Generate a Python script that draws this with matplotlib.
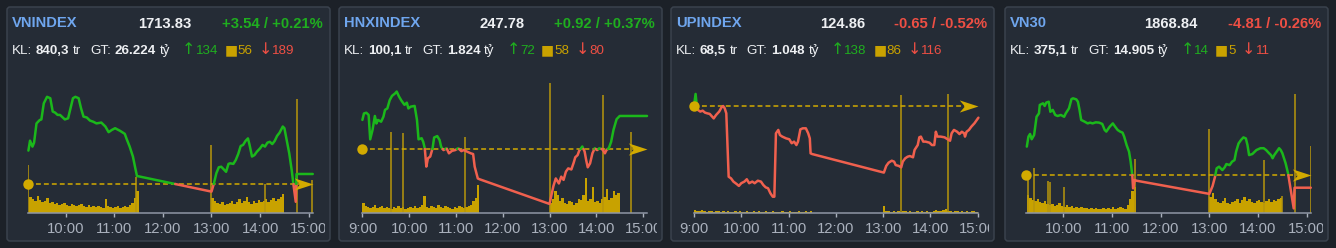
import matplotlib
matplotlib.use('Agg')
import matplotlib.pyplot as plt
from matplotlib.patches import FancyBboxPatch
from matplotlib.path import Path
from matplotlib.transforms import Bbox, IdentityTransform

# ---- header data ----
names = ['VNINDEX', 'HNXINDEX', 'UPINDEX', 'VN30']
last = [1713.83, 247.78, 124.86, 1868.84]
chg = [3.54, 0.92, -0.65, -4.81]
pct = [0.21, 0.37, -0.52, -0.26]
kl = ['840,3', '100,1', '68,5', '375,1']
gt = ['26.224', '1.824', '1.048', '14.905']
n_up = [134, 72, 138, 14]
n_flat = [56, 58, 86, 5]
n_down = [189, 80, 116, 11]

# time axis: minutes after 9:00
tick_pos = [0, 60, 120, 180, 240, 300, 360]
tick_lbl = ['9:00', '10:00', '11:00', '12:00', '13:00', '14:00', '15:00']

# ---- price series ----
vni_t = [14, 16, 19, 21, 24, 28, 30, 33, 37, 41, 44, 47, 50, 53, 56, 59, 63, 65, 69, 72,
         76, 79, 82, 86, 90, 94, 98, 104, 109, 113, 117, 121, 127, 133, 135, 139, 143, 146, 148, 150,
         240, 243, 246, 249, 252, 255, 258, 261, 263, 267, 270, 273, 276, 279, 282, 285, 287, 290,
         293, 296, 300, 303, 306, 309, 312, 315, 318, 321, 324, 328, 330, 336, 339, 341, 344, 345, 365]
vni_p = [1722.1, 1725.6, 1723.5, 1724.9, 1731.7, 1732.9, 1733.1, 1738.8, 1741.1, 1740.6,
         1735.9, 1735.5, 1734.7, 1734.7, 1733.9, 1733.1, 1733.5, 1735.9, 1740.6, 1741.1,
         1740.6, 1737.0, 1734.1, 1733.8, 1732.7, 1732.3, 1731.7, 1732.0, 1730.6, 1728.6,
         1729.4, 1730.0, 1729.1, 1728.0, 1726.4, 1723.5, 1720.0, 1715.8, 1713.1, 1713.0,
         1707.6, 1710.5, 1714.1, 1716.2, 1716.4, 1715.5, 1714.6, 1717.4, 1717.6, 1717.4,
         1718.8, 1720.9, 1723.7, 1724.1, 1725.5, 1726.4, 1724.1, 1720.0, 1720.5, 1721.7,
         1722.9, 1724.1, 1723.5, 1724.9, 1725.2, 1724.4, 1725.5, 1727.3, 1728.4, 1730.6,
         1730.0, 1721.1, 1715.2, 1710.5, 1704.0, 1713.83, 1713.83]

hnx_t = [0, 2, 5, 8, 10, 13, 16, 18, 20, 24, 27, 29, 32, 35, 38, 42, 44, 47, 50, 54,
         57, 59, 62, 67, 70, 72, 76, 78, 80, 82, 84, 87, 90, 92, 96, 99, 101, 104, 108, 111,
         115, 119, 123, 127, 130, 134, 139, 142, 144, 148, 150,
         240, 243, 245, 248, 252, 255, 258, 261, 264, 268, 271, 273, 276, 278, 282, 285, 287,
         289, 292, 295, 298, 301, 304, 308, 311, 313, 316, 319, 322, 326, 330, 365]
hnx_p = [247.67, 247.85, 247.87, 247.81, 247.13, 247.39, 247.78, 247.57, 247.67, 247.62,
         247.76, 247.95, 247.99, 248.22, 248.34, 248.41, 248.46, 248.32, 248.21, 248.09,
         248.15, 247.99, 248.04, 248.06, 247.67, 247.13, 247.16, 247.06, 246.88, 246.37,
         246.60, 246.65, 246.88, 247.18, 247.22, 247.11, 246.92, 246.83, 246.88, 246.74,
         246.81, 246.83, 246.88, 246.80, 246.83, 246.79, 246.74, 246.72, 246.37, 246.04, 246.02,
         245.33, 245.63, 245.83, 246.04, 245.90, 246.09, 246.00, 246.23, 246.32, 246.29,
         246.48, 246.63, 246.69, 246.81, 246.93, 246.79, 246.55, 246.35, 246.46, 246.74,
         246.88, 246.83, 246.88, 246.85, 246.74, 246.83, 246.88, 247.06, 247.39, 247.69,
         247.78, 247.78]

upc_t = [0, 2, 4, 8, 11, 14, 17, 20, 25, 28, 32, 35, 37, 39, 41, 44, 47, 50, 54, 57,
         60, 64, 67, 70, 74, 77, 81, 85, 88, 91, 94, 97, 100, 102, 104, 107, 109, 112, 117, 121,
         124, 127, 130, 132, 135, 138, 142, 145, 147, 148, 150,
         241, 244, 247, 251, 254, 256, 260, 263, 265, 268, 271, 274, 278, 280, 284, 286, 288,
         291, 294, 299, 302, 305, 307, 309, 313, 318, 322, 325, 327, 330, 334, 337, 340, 343,
         344, 346, 349, 352, 356, 361]
upc_p = [125.51, 126.18, 125.32, 125.20, 125.25, 125.14, 125.10, 125.07, 124.82, 125.01,
         125.20, 125.44, 125.51, 125.38, 125.10, 121.58, 121.49, 121.31, 121.18, 121.07,
         121.22, 121.31, 121.44, 121.22, 121.31, 121.22, 121.36, 121.31, 121.12, 120.99,
         120.94, 120.66, 120.47, 120.47, 123.99, 124.18, 123.90, 123.81, 123.71, 123.66,
         123.44, 123.53, 123.34, 123.53, 124.21, 124.27, 124.27, 123.99, 123.71, 122.88, 122.84,
         121.81, 122.18, 122.36, 122.47, 122.42, 122.23, 122.18, 122.10, 122.42, 122.60,
         122.69, 122.73, 122.66, 123.07, 123.34, 123.77, 123.81, 123.53, 123.53, 123.47,
         123.34, 123.34, 124.08, 123.81, 123.81, 123.77, 123.66, 123.58, 123.99, 124.18,
         124.08, 123.95, 124.08, 123.99, 123.81, 124.08, 124.18, 124.36, 124.55, 124.86]

vn30_t = [15, 17, 19, 21, 24, 27, 30, 31, 35, 37, 39, 42, 44, 47, 50, 53, 57, 61, 63, 67,
          70, 72, 76, 78, 80, 82, 86, 90, 93, 96, 100, 104, 108, 111, 113, 117, 121, 124, 127, 130,
          133, 135, 138, 141, 143, 145, 146, 148, 150,
          240, 244, 247, 249, 252, 256, 259, 261, 265, 268, 271, 273, 276, 279, 282, 285, 287,
          289, 293, 296, 298, 303, 307, 310, 313, 316, 318, 320, 323, 326, 328, 330, 334, 337,
          341, 344, 345, 365]
vn30_p = [1884.4, 1888.2, 1889.2, 1887.2, 1888.8, 1895.7, 1897.0, 1900.2, 1900.8, 1899.8,
          1901.1, 1901.4, 1897.6, 1898.3, 1896.4, 1896.0, 1896.4, 1895.7, 1897.0, 1898.9,
          1902.4, 1902.7, 1902.3, 1901.4, 1898.3, 1894.5, 1893.9, 1893.2, 1893.5, 1893.2,
          1893.6, 1893.5, 1893.0, 1890.7, 1890.1, 1891.9, 1893.2, 1891.9, 1890.7, 1890.1,
          1889.7, 1888.2, 1885.0, 1882.5, 1878.7, 1873.65, 1868.6, 1871.8, 1871.5,
          1866.5, 1869.5, 1873.0, 1876.2, 1876.8, 1875.5, 1876.6, 1877.8, 1877.4, 1878.7,
          1879.3, 1882.5, 1885.6, 1886.9, 1887.9, 1887.5, 1885.0, 1881.2, 1881.6, 1882.5,
          1883.1, 1883.8, 1883.8, 1883.1, 1882.1, 1881.2, 1880.0, 1881.2, 1882.5, 1883.8,
          1883.1, 1881.9, 1878.1, 1874.3, 1866.7, 1861.0, 1868.84, 1868.84]

# ---- volume: 3-minute bars per session + large single prints ----
vni_vol_am = [16, 14, 12, 17, 13, 11, 12, 15, 10, 11, 9, 10, 8, 9, 10, 8, 7, 9, 8, 7,
              8, 9, 7, 6, 8, 6, 7, 6, 7, 6, 5, 14, 7, 6, 5, 6, 7, 5, 6, 7, 6, 8, 10, 15, 22]
vni_vol_pm = [15, 12, 10, 9, 11, 8, 9, 10, 12, 9, 11, 14, 10, 12, 16, 11, 9, 12, 10, 13,
              11, 12, 14, 11, 13, 15, 12, 14, 16, 19]
vni_spk_t = [14, 147, 240, 306, 345, 364]
vni_spk_v = [48, 36, 68, 29, 114, 33]

hnx_vol_am = [10, 7, 6, 5, 6, 8, 5, 6, 7, 5, 6, 5, 4, 6, 5, 7, 5, 6, 4, 5,
              6, 5, 7, 5, 6, 8, 17, 6, 5, 7, 6, 5, 8, 6, 5, 7, 6, 5, 4, 6,
              5, 7, 6, 5, 6, 7, 8, 12, 15, 28]
hnx_vol_pm = [10, 14, 22, 18, 12, 15, 10, 9, 12, 11, 8, 10, 14, 13, 18, 35, 12, 14, 26, 11,
              12, 10, 14, 16, 24, 13, 15, 22, 18, 20]
hnx_spk_t = [37, 52, 131, 240, 309, 345]
hnx_spk_v = [81, 80, 76, 130, 118, 81]

upc_vol_am = [3, 2, 2, 3, 2, 1, 2, 2, 1, 2, 2, 1, 2, 1, 2, 1, 1, 2, 1, 2,
              1, 1, 2, 1, 1, 2, 1, 2, 1, 1, 2, 1, 1, 2, 1, 1, 1, 2, 1, 1,
              2, 1, 1, 1, 2, 1, 1, 2, 1, 2]
upc_vol_pm = [7, 2, 2, 1, 2, 1, 2, 1, 2, 2, 1, 2, 1, 1, 2, 1, 2, 1, 2, 1,
              1, 2, 3, 2, 2, 3, 4, 2, 2, 1, 2, 2, 1, 2, 1, 2, 1, 2, 2, 1]
upc_spk_t = [263, 323]
upc_spk_v = [118, 119]

vn30_vol_am = [18, 15, 13, 12, 14, 11, 10, 12, 9, 8, 9, 7, 8, 10, 7, 6, 8, 6, 7, 5,
               6, 5, 6, 5, 5, 4, 5, 4, 5, 4, 4, 5, 4, 5, 4, 6, 4, 5, 6, 5, 4, 8, 14, 22, 26]
vn30_vol_pm = [16, 20, 14, 11, 10, 12, 15, 10, 9, 11, 12, 14, 10, 13, 16, 12, 14, 11, 10, 12,
               13, 11, 10, 12, 14, 11, 13, 12, 14, 15]
vn30_spk_t = [16, 24, 41, 44, 61, 148, 240, 307, 329, 345, 365]
vn30_spk_v = [33, 45, 32, 31, 26, 54, 84, 53, 17, 119, 67]

series_t = [vni_t, hnx_t, upc_t, vn30_t]
series_p = [vni_p, hnx_p, upc_p, vn30_p]
vol_am = [vni_vol_am, hnx_vol_am, upc_vol_am, vn30_vol_am]
vol_pm = [vni_vol_pm, hnx_vol_pm, upc_vol_pm, vn30_vol_pm]
am_start = [15, 0, 0, 15]
spk_t = [vni_spk_t, hnx_spk_t, upc_spk_t, vn30_spk_t]
spk_v = [vni_spk_v, hnx_spk_v, upc_spk_v, vn30_spk_v]

# ---- layout / style ----
W, H = 1336, 248
BG = '#1c2128'
CARD = '#252c36'
EDGE = '#3a424d'
BLUE = '#6fa6ee'
WHITE = '#eef0f3'
UP = '#1bb81b'
DN = '#f0604e'
UPTXT = '#1fae1f'
DNTXT = '#ee4f44'
GOLD = '#d2aa00'
GOLDTXT = '#c9a200'
VOLC = '#c8a200'
SPKC = '#b8960c'
AXC = '#8f97a5'
TICKC = '#aab1bd'
FONT = ['Liberation Sans', 'DejaVu Sans']
SYM = ['DejaVu Sans']

card_x = [7, 339, 671, 1005]
card_w = 323
ax_px = [(28, 313), (362, 647), (694, 978), (1026, 1311)]
xlims = [(13.5, 365.3), (-0.5, 365), (0, 360.5), (14, 365.3)]
ylims = [(1700.15, 1747.04), (245.086, 248.782), (119.582, 126.954), (1859.37, 1909.64)]
vol_top = 133
price_x = [138.3, 479, 819.7, 1143.7]

fig = plt.figure(figsize=(W / 100, H / 100), dpi=100)
fig.patch.set_facecolor(BG)
rend = fig.canvas.get_renderer()


def fx(x):
    return x / W


def fy(y):
    return 1 - y / H


def color_runs(t, p, ref):
    runs = []
    pts = [(t[0], p[0])]
    cur = p[0] >= ref
    for i in range(1, len(t)):
        t0, p0, t1, p1 = t[i - 1], p[i - 1], t[i], p[i]
        if (p0 - ref) * (p1 - ref) < 0:
            tc = t0 + (ref - p0) / (p1 - p0) * (t1 - t0)
            pts.append((tc, ref))
            runs.append((cur, pts))
            pts = [(tc, ref)]
            cur = p1 > ref
        elif p0 == ref and p1 != ref and (p1 > ref) != cur:
            runs.append((cur, pts))
            pts = [(t0, p0)]
            cur = p1 > ref
        pts.append((t1, p1))
    runs.append((cur, pts))
    return runs


def put_runs(x, y, pieces):
    for s, kw in pieces:
        if s == ' ':
            x += kw
            continue
        t = fig.text(fx(x), fy(y), s, va='baseline', **kw)
        x += t.get_window_extent(renderer=rend).width
    return x


arrow_head = Path([(0, 0), (-2, 0.65), (-1.45, 0), (-2, -0.65), (0, 0)],
                  [Path.MOVETO, Path.LINETO, Path.LINETO, Path.LINETO, Path.CLOSEPOLY])

for i in range(4):
    cx = card_x[i]
    card = FancyBboxPatch((cx, H - 241), card_w, 234, boxstyle='round,pad=0,rounding_size=3',
                          transform=IdentityTransform(), facecolor=CARD, edgecolor=EDGE,
                          lw=1.1, zorder=-1)
    fig.add_artist(card)

    ref = round(last[i] - chg[i], 2)

    # header line 1
    fig.text(fx(cx + 4.8), fy(27.3), names[i], color=BLUE, fontsize=10.6,
             fontweight='bold', family=FONT, va='baseline')
    fig.text(fx(price_x[i]), fy(27.5), f'{last[i]:.2f}', color=WHITE, fontsize=10.6,
             fontweight='bold', family=FONT, va='baseline')
    fig.text(fx(cx + card_w - 7), fy(27.5), f'{chg[i]:+.2f} / {pct[i]:+.2f}%',
             color=UPTXT if chg[i] > 0 else DNTXT, fontsize=10.7, fontweight='bold',
             family=FONT, va='baseline', ha='right')

    # header line 2
    reg = dict(color=WHITE, fontsize=9.6, family=FONT)
    bold = dict(color=WHITE, fontsize=9.6, family=FONT, fontweight='bold')
    sp = 3.7
    x = put_runs(cx + 4.8, 54.3, [('KL:', reg), (' ', sp), (kl[i], bold), (' ', sp),
                                  ('tr', reg), (' ', 2.4 * sp), ('GT:', reg), (' ', sp),
                                  (gt[i], bold), (' ', sp), ('tỷ', reg)])
    x += 12
    x = put_runs(x, 54.3, [('↑', dict(color=UPTXT, fontsize=11.5, family=SYM)),
                           (str(n_up[i]), dict(color=UPTXT, fontsize=9.6, family=FONT))])
    x += 6.5
    x = put_runs(x, 54.3, [('■', dict(color=GOLDTXT, fontsize=10, family=SYM)),
                           (str(n_flat[i]), dict(color=GOLDTXT, fontsize=9.6, family=FONT))])
    x += 6.5
    put_runs(x, 54.3, [('↓', dict(color=DNTXT, fontsize=11.5, family=SYM)),
                       (str(n_down[i]), dict(color=DNTXT, fontsize=9.6, family=FONT))])

    # chart axes
    x0, x1 = ax_px[i]
    axv = fig.add_axes([fx(x0), fy(212.7), (x1 - x0) / W, (212.7 - 80) / H])
    axv.set_facecolor('none')
    ax = axv.twinx()
    axv.set_xticks(tick_pos, tick_lbl)
    for a in (axv, ax):
        for s in ('top', 'left', 'right'):
            a.spines[s].set_visible(False)
    ax.spines['bottom'].set_visible(False)
    axv.spines['bottom'].set_color(AXC)
    axv.spines['bottom'].set_linewidth(1.1)
    axv.tick_params(axis='y', left=False, labelleft=False)
    ax.tick_params(axis='y', right=False, labelright=False)
    axv.tick_params(axis='x', colors=TICKC, length=3.2, width=1, pad=3.3, labelsize=10.7)
    clip = Bbox.from_extents(cx + 2, 0, cx + card_w - 5, H)
    for tk in axv.xaxis.get_major_ticks():
        tk.label1.set_family(FONT)
        tk.label1.set_clip_box(clip)
        tk.label1.set_clip_on(True)

    # volume
    am = vol_am[i]
    pm = vol_pm[i]
    axv.bar([am_start[i] + 3 * k for k in range(len(am))], am, width=3, align='edge',
            color=VOLC, lw=0)
    axv.bar([240 + 3 * k for k in range(len(pm))], pm, width=3, align='edge',
            color=VOLC, lw=0)
    axv.vlines(spk_t[i], 0, spk_v[i], colors=SPKC, lw=1.1)

    # reference line, start dot, arrow
    xs, xe = xlims[i]
    ax.plot([xs, xe - 6], [ref, ref], color=GOLD, lw=1.1, dashes=(3.2, 2.0), zorder=2)
    ax.plot([xs], [ref], 'o', ms=7.5, color=GOLD, mew=0, clip_on=False, zorder=6)
    ax.plot([xe], [ref], marker=arrow_head, ms=27, color=GOLD, mew=0, clip_on=False,
            zorder=6, ls='none')

    # price line
    for above, pts in color_runs(series_t[i], series_p[i], ref):
        ax.plot([q[0] for q in pts], [q[1] for q in pts], color=UP if above else DN,
                lw=1.8, solid_joinstyle='round', solid_capstyle='round', zorder=4,
                clip_on=False)

    # limits last (set_xticks would widen them)
    axv.set_xlim(*xlims[i])
    axv.set_ylim(0, vol_top)
    ax.set_ylim(*ylims[i])

fig.savefig('out.png', dpi=100, facecolor=BG)
